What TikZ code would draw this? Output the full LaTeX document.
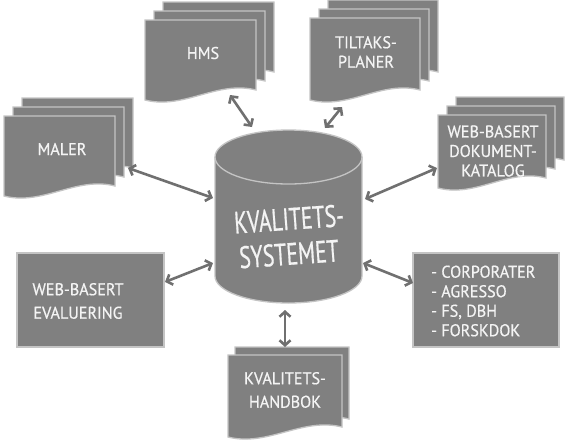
\documentclass[tikz,border=0pt]{standalone}
\usepackage{fontspec}
\usetikzlibrary{arrows.meta}
\newfontfamily\lblfont[FakeStretch=0.95,FakeBold=0.6]{PT Sans}
\newfontfamily\bigfont[FakeStretch=0.7,FakeBold=0.6]{PT Sans}
\definecolor{shapegray}{HTML}{808080}
\definecolor{edgegray}{HTML}{C4C4C4}
\definecolor{arrowgray}{HTML}{707070}
\definecolor{textwhite}{HTML}{F4F4F4}
\tikzset{
  shapestyle/.style={fill=shapegray, draw=edgegray, line width=1.3pt},
  lbl/.style={text=textwhite, font=\lblfont\fontsize{17}{19.5}\selectfont, align=center, inner sep=0pt},
  biglbl/.style={text=textwhite, font=\bigfont\fontsize{31}{34}\selectfont, inner sep=0pt},
  link/.style={draw=arrowgray, line width=2.6pt, {Straight Barb[length=5pt,width=11pt]}-{Straight Barb[length=5pt,width=11pt]}}
}
\newcommand\docpage[4]{% x y w h
  \draw[shapestyle] (#1,#2) -- ({#1+#3},#2) -- ({#1+#3},{#2+#4-10})
    .. controls ({#1+0.65*#3},{#2+#4-20}) and ({#1+0.35*#3},{#2+#4+10}) .. (#1,{#2+#4}) -- cycle;}
\begin{document}
\begin{tikzpicture}[x=1pt,y=-1pt]
\useasboundingbox (0,0) rectangle (571,445);
\fill[white] (0,0) rectangle (571,445);

% HMS
\docpage{163}{2}{111}{80}
\docpage{154}{11}{111}{80}
\docpage{145}{20}{111}{80}
\node[lbl] (hms) at (203,53) {HMS};

% TILTAKSPLANER
\docpage{328}{0}{110}{82}
\docpage{319}{9}{110}{82}
\docpage{310}{18}{110}{82}
\node[lbl] (tilt) at (366,52) {TILTAKS-\\PLANER};

% MALER
\docpage{22}{98}{111}{80}
\docpage{13}{107}{111}{80}
\docpage{4}{116}{111}{80}
\node[lbl] (maler) at (62,149) {MALER};

% DOKUMENTKATALOG
\docpage{456}{97}{108}{73}
\docpage{447}{106}{108}{73}
\docpage{438}{115}{108}{73}
\node[lbl] (dok) at (493,151) {WEB-BASERT\\DOKUMENT-\\KATALOG};

% HANDBOK
\docpage{235}{347}{114}{82}
\docpage{228}{355}{114}{82}
\node[lbl] (hand) at (285,390) {KVALITETS-\\[4pt]HANDBOK};

% EVALUERING
\draw[shapestyle] (17,253) rectangle (164,347);
\node[lbl] (eval) at (78,301) {WEB-BASERT\\[4pt]EVALUERING};

% LIST
\draw[shapestyle] (413,253) rectangle (559,347);
\node[lbl, align=left, anchor=west] (list) at (431,301) {- CORPORATER\\- AGRESSO\\- FS, DBH\\- FORSKDOK};

% Cylinder
\draw[shapestyle] (215,157) -- (215,276) arc[start angle=180, end angle=360, x radius=73.5pt, y radius=27pt] -- (362,157);
\draw[shapestyle] (288.5,157) ellipse[x radius=73.5pt, y radius=27pt];
\node[biglbl, rotate=4] (sys1) at (289,219) {KVALITETS-};
\node[biglbl, rotate=4] (sys2) at (289,254) {SYSTEMET};

% connector endpoints
\coordinate (hmsE) at (230,95);  \coordinate (sysA) at (252,127);
\coordinate (tiltE) at (342,107); \coordinate (sysB) at (325,128);
\coordinate (malerE) at (128,168); \coordinate (sysC) at (213,198);
\coordinate (dokE) at (437,168); \coordinate (sysD) at (365,199);
\coordinate (evalE) at (165,282); \coordinate (sysE) at (213,263);
\coordinate (listE) at (413,283); \coordinate (sysF) at (363,263);
\coordinate (handE) at (285,347); \coordinate (sysG) at (285,310);

\draw[link] (hmsE) -- (sysA);
\draw[link] (tiltE) -- (sysB);
\draw[link] (malerE) -- (sysC);
\draw[link] (dokE) -- (sysD);
\draw[link] (evalE) -- (sysE);
\draw[link] (listE) -- (sysF);
\draw[link] (handE) -- (sysG);
\end{tikzpicture}
\end{document}
